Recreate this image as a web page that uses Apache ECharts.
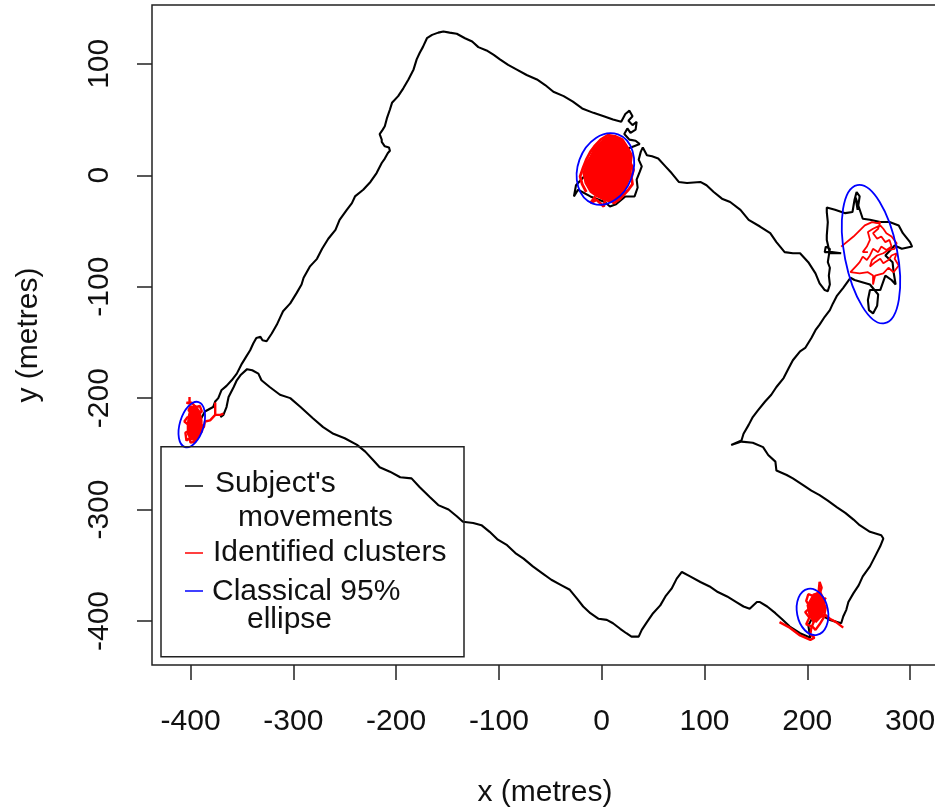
<!DOCTYPE html>
<html><head><meta charset="utf-8">
<script src="https://cdn.jsdelivr.net/npm/echarts@6/dist/echarts.min.js"></script>
<style>html,body{margin:0;padding:0;background:#fff;overflow:hidden}#chart{width:935px;height:808px}</style>
</head><body><div id="chart"></div>
<script>
// ---- data (metres) ----
const xTicks = [-400, -300, -200, -100, 0, 100, 200, 300];
const yTicks = [-400, -300, -200, -100, 0, 100];
const X_MIN = -437.5, X_MAX = 327.2, Y_MIN = -439.5, Y_MAX = 152.8;

// subject's movements (black track)
const track = [
[-396,-229],[-386,-212],[-378,-208],[-376,-203],[-373,-200],[-370,-193],[-365,-189],[-360,-184],[-355,-178],[-350,-169],[-346,-163],[-342,-157],[-339,-151],[-336,-146],[-332,-145],[-330,-148],[-326,-149],[-321,-142],[-316,-134],[-313,-128],[-310,-122],[-303,-115],[-297,-106],[-292,-98],[-290,-92],[-287,-87],[-284,-82],[-277,-75],[-272,-66],[-266,-57],[-259,-49],[-255,-40],[-248,-31],[-243,-25],[-240,-19],[-232,-13],[-225,-6],[-219,2],[-214,11],[-211,15],[-208,20],[-206,22],[-207,25],[-211,26],[-214,30],[-214,32],[-216,37],[-213,41],[-211,44],[-209,51],[-206,59],[-204,65],[-198,71],[-193,78],[-188,86],[-183,95],[-180,104],[-177,110],[-174,115],[-170,123],[-165,126],[-159,128],[-154,129],[-148,128],[-141,127],[-133,123],[-126,120],[-120,115],[-112,112],[-105,108],[-99,104],[-91,99],[-83,95],[-73,90],[-63,86],[-55,81],[-47,75],[-37,71],[-28,66],[-19,60],[-8,56],[2,53],[11,50],[19,48],
[23,55],[27,58],[30,53],[26,49],[30,45],[34,48],[33,41],[28,38],[25,42],[22,37],[27,32],[33,31],[37,28],
[-2,14],[-16,0],[-25,-9],[-27,-19],[-23,-13],[-11,-19],[3,-24],[8,-28],[14,-26],[23,-19],[32,-19],[35,-11],[34,-4],[37,3],[39,8],[36,14],[38,21],[40,25],[44,18],
[49,17],[55,15],[62,8],[68,2],[75,-6],[83,-7],[96,-6],[102,-9],[109,-15],[117,-21],[125,-24],[135,-31],[143,-40],[154,-46],[164,-52],[170,-60],[178,-69],[186,-70],[193,-70],[201,-78],[208,-88],[212,-97],[217,-103],[220,-104],
[222,-98],[221,-90],[222,-83],[220,-78],[222,-66],[218,-64],[217,-69],[224,-69],[233,-70],[222,-70],[219,-58],[219,-54],[220,-42],[219,-33],[219,-29],[227,-31],[237,-34],[244,-33],[246,-22],[248,-15],[251,-19],[249,-31],[247,-20],[250,-28],[254,-39],[261,-40],[271,-42],[280,-42],[289,-45],[293,-52],[300,-60],[302,-64],[292,-66],[285,-63],[276,-72],[283,-78],[284,-87],[286,-98],[282,-94],[276,-90],[271,-103],[261,-103],[259,-112],[260,-121],[264,-124],[268,-117],[269,-107],[261,-98],[246,-94],[242,-92],
[235,-101],[229,-108],[225,-115],[222,-121],[217,-127],[212,-134],[208,-139],[204,-146],[198,-155],[193,-158],[186,-166],[182,-173],[177,-182],[170,-190],[165,-197],[159,-203],[152,-211],[147,-217],[143,-224],[138,-232],[136,-238],[131,-240],[126,-242],[136,-239],[147,-240],[157,-244],[162,-251],[169,-257],[170,-265],[180,-269],[186,-272],[196,-278],[204,-283],[212,-287],[220,-292],[229,-298],[237,-303],[245,-309],[251,-314],[261,-320],[272,-323],[274,-326],[271,-333],[266,-342],[261,-351],[254,-360],[250,-368],[245,-375],[240,-383],[238,-390],[235,-396],[233,-402],
[222,-399],[208,-392],[201,-404],[203,-415],[193,-411],[183,-405],[175,-398],
[169,-393],[161,-387],[154,-383],[151,-383],[144,-389],[138,-387],[131,-383],[122,-378],[113,-374],[105,-369],[96,-365],[86,-360],[78,-356],[73,-362],[68,-371],[62,-378],[57,-386],[50,-393],[44,-401],[39,-408],[36,-414],[29,-414],[24,-411],[18,-407],[11,-402],[5,-399],[-3,-398],[-11,-393],[-18,-387],[-24,-380],[-31,-372],[-39,-368],[-49,-363],[-58,-357],[-67,-351],[-76,-344],[-84,-339],[-92,-332],[-101,-327],[-109,-320],[-117,-314],[-125,-312],[-135,-311],[-141,-306],[-149,-300],[-159,-296],[-167,-289],[-177,-280],[-185,-272],[-196,-271],[-206,-266],[-216,-262],[-222,-256],[-230,-248],[-238,-242],[-250,-236],[-261,-232],[-271,-226],[-281,-218],[-293,-208],[-303,-200],[-313,-197],[-323,-190],[-331,-184],[-334,-178],[-340,-175],[-345,-174],[-351,-179],[-355,-184],[-358,-190],[-363,-199],[-365,-208],[-368,-215],[-371,-217]
];

// identified clusters (red): dense cores and scribbled traces
const clusterTopCore = [[8,35],[18,33],[24,26],[28,17],[29,8],[28,-1],[24,-10],[21,-16],[15,-22],[8,-24],[2,-22],[-5,-19],[-11,-15],[-16,-7],[-18,2],[-15,11],[-11,17],[-8,23],[-2,29],[3,33]];
const clusterLeftCore = [[-400,-208],[-395,-207],[-391,-212],[-389,-220],[-389,-228],[-392,-235],[-396,-238],[-400,-237],[-403,-232],[-403,-224],[-402,-216]];
const clusterBottomCore = [[206,-376],[213,-374],[217,-382],[217,-391],[212,-397],[206,-401],[202,-395],[200,-386]];
const clusterTopEdge = [[-6,-19],[-11,-25],[-5,-22],[2,-28],[4,-20],[12,-25],[18,-21],[26,-13],[30,-8],[29,-2],[31,5],[28,11],[29,18],[25,25],[20,32],[13,35],[6,36],[-1,32],[-7,26],[-11,21],[-15,14],[-18,7],[-21,-1],[-19,-8],[-15,-15]];
const clusterRight = [[233,-64],[245,-55],[256,-45],[263,-42],[268,-43],[271,-42],[269,-48],[264,-52],[268,-57],[272,-55],[276,-60],[280,-58],[282,-64],[277,-67],[272,-64],[269,-69],[264,-66],[261,-72],[258,-76],[254,-73],[251,-78],[248,-81],[242,-87],[251,-88],[259,-87],[264,-90],[264,-98],[266,-90],[274,-88],[279,-83],[284,-87],[289,-81],[285,-75],[287,-70],[282,-72],[279,-76],[274,-79],[271,-75],[266,-78],[261,-82],[263,-76],[268,-72],[274,-70],[279,-67],[285,-66],[287,-61],[282,-55],[277,-52],[274,-48],[271,-45],[264,-48],[259,-51],[261,-58],[258,-64],[254,-69],[259,-69]];
const clusterLeft = [[-401,-199],[-401,-205],[-404,-204],[-399,-204],[-395,-208],[-391,-207],[-389,-212],[-393,-215],[-390,-220],[-395,-222],[-391,-227],[-388,-224],[-389,-230],[-393,-234],[-395,-239],[-400,-240],[-401,-236],[-404,-238],[-405,-231],[-400,-229],[-402,-224],[-406,-221],[-403,-217],[-399,-218],[-398,-213],[-402,-211],[-400,-207],[-396,-212],[-394,-218],[-398,-224],[-396,-230],[-400,-234],[-397,-227],[-392,-230],[-387,-226],[-386,-221],[-381,-220],[-376,-215],[-376,-204],[-376,-215],[-371,-215],[-368,-214]];
const clusterBottom = [[235,-406],[228,-401],[222,-398],[217,-394],[212,-397],[208,-401],[210,-392],[205,-387],[208,-381],[212,-376],[214,-370],[212,-365],[211,-374],[207,-378],[201,-376],[199,-382],[203,-388],[198,-392],[202,-397],[199,-403],[205,-405],[208,-408],[212,-403],[216,-397],[218,-388],[215,-383],[218,-379],[213,-386],[208,-388],[205,-394],[208,-397],[204,-406],[203,-412],[207,-415],[203,-417],[193,-413],[183,-406],[173,-401]];

// classical 95% ellipses: centre x, centre y, semi-axis x, semi-axis y, tilt (deg, anticlockwise)
const ellipses = [
  [3.6, 5.6, 26.8, 33.0, -20],
  [262.0, -70.8, 25.6, 63.2, 11.2],
  [-398.8, -223.7, 11.6, 21.1, -16.8],
  [205.1, -391.8, 15.1, 21.1, 10.9]
];

// ---- chart ----
const FONT = '"Liberation Sans", Arial, Helvetica, sans-serif';
const TXT = '#111';
const cores = [clusterTopCore, clusterLeftCore, clusterBottomCore];
const chart = echarts.init(document.getElementById('chart'), null, {renderer: 'canvas'});

function redLine(data, w) {
  return {type: 'line', data: data, symbol: 'none', showSymbol: false, z: 3,
    lineStyle: {color: '#ff0000', width: w}, silent: true, animation: false};
}

const option = {
  animation: false,
  backgroundColor: '#ffffff',
  grid: {left: 152, top: 5, width: 786, height: 660, show: true, borderColor: '#222', borderWidth: 1.5,
    backgroundColor: 'transparent', containLabel: false, outerBoundsMode: 'none'},
  xAxis: {
    type: 'value', min: X_MIN, max: X_MAX, position: 'bottom',
    splitLine: {show: false}, axisLine: {show: false, onZero: false},
    axisTick: {show: true, inside: false, length: 15, lineStyle: {color: '#222', width: 1.5}, customValues: xTicks},
    axisLabel: {customValues: xTicks, margin: 42, fontSize: 30, lineHeight: 30, fontFamily: FONT, color: TXT},
    name: 'x (metres)', nameLocation: 'middle', nameGap: 113,
    nameTextStyle: {fontSize: 30, lineHeight: 30, fontFamily: FONT, color: TXT}
  },
  yAxis: {
    type: 'value', min: Y_MIN, max: Y_MAX, position: 'left',
    splitLine: {show: false}, axisLine: {show: false, onZero: false},
    axisTick: {show: true, inside: false, length: 15, lineStyle: {color: '#222', width: 1.5}, customValues: yTicks},
    axisLabel: {customValues: yTicks, rotate: 90, margin: 37, fontSize: 30, lineHeight: 30, fontFamily: FONT, color: TXT},
    name: 'y (metres)', nameLocation: 'middle', nameGap: 108,
    nameTextStyle: {fontSize: 30, lineHeight: 30, fontFamily: FONT, color: TXT}
  },
  series: [
    {type: 'line', name: "Subject's movements", data: track, symbol: 'none', showSymbol: false, z: 2,
      lineStyle: {color: '#000000', width: 2.1}, silent: true},
    {type: 'custom', name: 'Identified clusters', z: 3, silent: true, data: cores.map(function (c) { return c[0]; }),
      renderItem: function (params, api) {
        const pts = cores[params.dataIndex];
        return {type: 'polygon', shape: {points: pts.map(function (p) { return api.coord(p); })},
          style: {fill: '#ff0000', stroke: '#ff0000', lineWidth: 1.5}};
      }},
    redLine(clusterTopEdge, 2.8),
    redLine(clusterRight, 1.8),
    redLine(clusterLeft, 2.4),
    redLine(clusterBottom, 2.4),
    {type: 'custom', name: 'Classical 95% ellipse', z: 4, silent: true, data: ellipses,
      renderItem: function (params, api) {
        const c = api.coord([api.value(0), api.value(1)]);
        const s = api.size([api.value(2), api.value(3)]);
        return {type: 'group', x: c[0], y: c[1], rotation: api.value(4) * Math.PI / 180,
          children: [{type: 'ellipse', shape: {cx: 0, cy: 0, rx: s[0], ry: s[1]},
            style: {fill: 'none', stroke: '#0000ff', lineWidth: 1.8}}]};
      }}
  ],
  graphic: [
    {type: 'rect', shape: {x: 161, y: 446.7, width: 303, height: 210}, style: {fill: 'none', stroke: '#222', lineWidth: 1.5}, z: 10},
    {type: 'line', shape: {x1: 185, y1: 486, x2: 203, y2: 486}, style: {stroke: '#000', lineWidth: 1.5}, z: 10},
    {type: 'line', shape: {x1: 185, y1: 553, x2: 203, y2: 553}, style: {stroke: '#ff0000', lineWidth: 1.5}, z: 10},
    {type: 'line', shape: {x1: 185, y1: 591, x2: 203, y2: 591}, style: {stroke: '#0000ff', lineWidth: 1.5}, z: 10},
    {type: 'text', x: 215, y: 484, style: {text: "Subject's", font: '30px ' + FONT, fill: TXT, verticalAlign: 'middle'}, z: 10},
    {type: 'text', x: 238, y: 518, style: {text: 'movements', font: '30px ' + FONT, fill: TXT, verticalAlign: 'middle'}, z: 10},
    {type: 'text', x: 213, y: 553, style: {text: 'Identified clusters', font: '30px ' + FONT, fill: TXT, verticalAlign: 'middle'}, z: 10},
    {type: 'text', x: 212, y: 591.5, style: {text: 'Classical 95%', font: '30px ' + FONT, fill: TXT, verticalAlign: 'middle'}, z: 10},
    {type: 'text', x: 247, y: 620, style: {text: 'ellipse', font: '30px ' + FONT, fill: TXT, verticalAlign: 'middle'}, z: 10}
  ]
};
chart.setOption(option);
</script></body></html>
